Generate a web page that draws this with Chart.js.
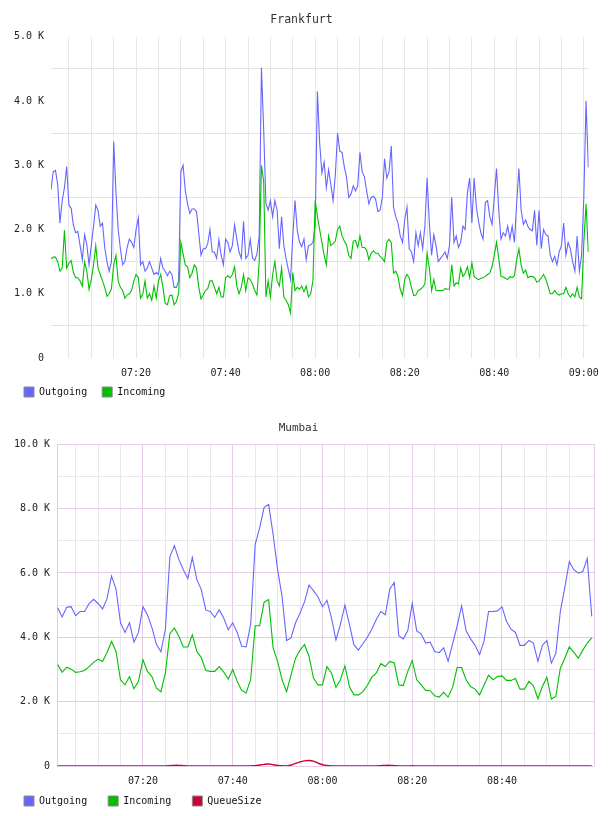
<!DOCTYPE html>
<html>
<head>
<meta charset="utf-8">
<script src="https://cdn.jsdelivr.net/npm/chart.js@4"></script>
<style>
  html, body { margin: 0; padding: 0; background: #fff; overflow: hidden; height: 816px; }
  canvas { position: absolute; left: 0; }
  #fra { top: 0; }
  #mum { top: 409px; }
</style>
</head>
<body>
<canvas id="fra" width="608" height="414"></canvas>
<canvas id="mum" width="608" height="419"></canvas>
<script>
// time axis is in minutes after 07:00
const fraStart = 1;
const fraStep = 0.5;
const fraOutgoing = [
  2.62, 2.9, 2.92, 2.7, 2.1, 2.45, 2.65, 2.98, 2.38, 2.33,
  2.07, 1.95, 1.97, 1.75, 1.53, 1.92, 1.76, 1.45, 1.75, 2.05,
  2.38, 2.3, 2.05, 2.1, 1.72, 1.5, 1.35, 1.5, 3.37, 2.6,
  2.0, 1.7, 1.45, 1.5, 1.72, 1.85, 1.8, 1.72, 2.0, 2.18,
  1.45, 1.5, 1.35, 1.4, 1.5, 1.4, 1.3, 1.33, 1.3, 1.55,
  1.4, 1.35, 1.28, 1.35, 1.3, 1.1, 1.1, 1.2, 2.9, 3.0,
  2.6, 2.4, 2.25, 2.32, 2.32, 2.28, 1.95, 1.6, 1.7, 1.7,
  1.78, 2.0, 1.65, 1.65, 1.55, 1.84, 1.6, 1.45, 1.85, 1.8,
  1.65, 1.75, 2.07, 1.85, 1.65, 1.55, 2.13, 1.55, 1.6, 1.85,
  1.56, 1.52, 1.62, 1.9, 4.52, 3.55, 2.41, 2.3, 2.45, 2.2,
  2.45, 2.3, 1.7, 2.2, 1.75, 1.55, 1.38, 1.22, 1.9, 2.45,
  1.99, 1.8, 1.73, 1.85, 1.53, 1.75, 1.76, 1.8, 2.05, 4.15,
  3.35, 2.88, 3.05, 2.65, 2.93, 2.7, 2.45, 2.85, 3.5, 3.22,
  3.2, 2.98, 2.82, 2.5, 2.55, 2.68, 2.6, 2.68, 3.2, 2.9,
  2.82, 2.6, 2.4, 2.5, 2.52, 2.47, 2.28, 2.3, 2.5, 3.1,
  2.8, 2.9, 3.3, 2.35, 2.2, 2.1, 1.9, 1.8, 2.15, 2.35,
  1.7, 1.65, 1.5, 1.95, 1.75, 1.95, 1.7, 2.05, 2.8, 2.1,
  1.6, 1.92, 1.75, 1.5, 1.55, 1.6, 1.65, 1.55, 1.75, 2.5,
  1.8, 1.9, 1.72, 1.8, 2.05, 2.0, 2.57, 2.8, 2.1, 2.8,
  2.35, 2.12, 1.95, 1.85, 2.42, 2.45, 2.2, 2.08, 2.5, 2.95,
  2.3, 1.85, 1.95, 1.9, 2.05, 1.85, 2.05, 1.8, 2.4, 2.95,
  2.3, 2.08, 2.15, 2.05, 2.0, 1.98, 2.3, 1.75, 2.3, 1.7,
  2.0, 1.92, 1.9, 1.6, 1.5, 1.58, 1.45, 1.65, 1.75, 2.1,
  1.6, 1.8, 1.7, 1.5, 1.35, 1.9, 1.35, 1.6, 2.5, 4.0,
  2.97
];
const fraIncoming = [
  1.54, 1.57, 1.57, 1.5, 1.35, 1.4, 1.99, 1.4, 1.48, 1.52,
  1.33, 1.25, 1.25, 1.2, 1.12, 1.5, 1.35, 1.07, 1.22, 1.45,
  1.75, 1.4, 1.3, 1.2, 1.1, 0.96, 1.0, 1.08, 1.45, 1.6,
  1.2, 1.1, 1.05, 0.93, 0.98, 1.0, 1.05, 1.2, 1.3, 1.25,
  0.93, 1.0, 1.2, 0.93, 1.0, 0.9, 1.12, 0.93, 1.2, 1.3,
  1.1, 0.85, 0.83, 0.97, 0.98, 0.83, 0.88, 1.0, 1.8, 1.62,
  1.45, 1.42, 1.25, 1.32, 1.45, 1.4, 1.1, 0.92, 0.98, 1.05,
  1.08, 1.2, 1.2, 1.1, 1.0, 1.1, 0.95, 0.95, 1.25, 1.28,
  1.25, 1.3, 1.42, 1.12, 1.0, 1.1, 1.3, 1.05, 1.25, 1.22,
  1.15, 1.05, 0.98, 1.5, 3.0, 2.75, 0.95, 1.2, 0.95, 1.3,
  1.5, 1.2, 1.12, 1.4, 0.95, 0.9, 0.83, 0.7, 1.33, 1.05,
  1.1, 1.07, 1.12, 1.03, 1.12, 0.95, 1.0, 1.2, 2.45, 2.2,
  2.0, 1.8, 1.6, 1.45, 1.9, 1.75, 1.78, 1.82, 2.0, 2.05,
  1.9, 1.82, 1.76, 1.6, 1.55, 1.82, 1.83, 1.72, 1.9, 1.72,
  1.72, 1.68, 1.53, 1.63, 1.67, 1.63, 1.63, 1.58, 1.55, 1.5,
  1.8, 1.85, 1.79, 1.32, 1.35, 1.27, 1.07, 0.97, 1.22, 1.3,
  1.25, 1.1, 0.97, 0.98, 1.05, 1.07, 1.1, 1.15, 1.63, 1.4,
  1.05, 1.22, 1.05, 1.05, 1.05, 1.05, 1.08, 1.07, 1.07, 1.45,
  1.12, 1.17, 1.15, 1.4, 1.27, 1.32, 1.42, 1.25, 1.48, 1.27,
  1.24, 1.22, 1.24, 1.25, 1.27, 1.3, 1.32, 1.42, 1.6, 1.8,
  1.55, 1.27, 1.26, 1.24, 1.22, 1.27, 1.25, 1.28, 1.53, 1.7,
  1.45, 1.32, 1.37, 1.25, 1.27, 1.27, 1.25, 1.18, 1.2, 1.25,
  1.3, 1.23, 1.12, 1.0, 1.0, 1.05, 1.0, 0.98, 1.0, 1.0,
  1.1, 1.0, 0.95, 1.0, 0.95, 1.1, 0.95, 0.92, 1.8, 2.4,
  1.65
];

const mumStart = 1;
const mumStep = 1;
const mumOutgoing = [
  4.92, 4.63, 4.93, 4.95, 4.67, 4.8, 4.8, 5.05, 5.18, 5.05,
  4.88, 5.2, 5.9, 5.5, 4.45, 4.15, 4.45, 3.85, 4.15, 4.95,
  4.7, 4.3, 3.78, 3.55, 4.25, 6.5, 6.85, 6.42, 6.1, 5.82,
  6.48, 5.8, 5.48, 4.85, 4.8, 4.62, 4.85, 4.6, 4.23, 4.45,
  4.15, 3.72, 3.7, 4.4, 6.88, 7.4, 8.04, 8.13, 7.2, 6.1,
  5.27, 3.9, 3.98, 4.45, 4.75, 5.1, 5.62, 5.45, 5.25, 4.95,
  5.15, 4.6, 3.92, 4.4, 5.0, 4.4, 3.77, 3.6, 3.8, 4.0,
  4.25, 4.55, 4.8, 4.7, 5.5, 5.7, 4.05, 3.95, 4.2, 5.05,
  4.2, 4.1, 3.82, 3.85, 3.56, 3.52, 3.67, 3.25, 3.8, 4.35,
  4.98, 4.2, 3.95, 3.75, 3.46, 3.88, 4.8, 4.8, 4.82, 4.95,
  4.5, 4.25, 4.15, 3.75, 3.75, 3.9, 3.82, 3.25, 3.75, 3.9,
  3.2, 3.5, 4.8, 5.55, 6.35, 6.1, 5.99, 6.04, 6.45, 4.65
];
const mumIncoming = [
  3.15, 2.91, 3.07, 3.01, 2.91, 2.93, 2.97, 3.09, 3.22, 3.32,
  3.25, 3.53, 3.87, 3.56, 2.68, 2.52, 2.78, 2.4, 2.63, 3.3,
  2.94, 2.78, 2.42, 2.31, 2.89, 4.11, 4.29, 4.03, 3.7, 3.7,
  4.08, 3.56, 3.37, 2.97, 2.94, 2.94, 3.09, 2.92, 2.7, 3.0,
  2.63, 2.35, 2.27, 2.69, 4.36, 4.36, 5.09, 5.17, 3.67, 3.25,
  2.68, 2.31, 2.83, 3.35, 3.6, 3.77, 3.41, 2.73, 2.52, 2.52,
  3.09, 2.89, 2.44, 2.68, 3.11, 2.47, 2.21, 2.21, 2.31, 2.5,
  2.76, 2.89, 3.18, 3.09, 3.25, 3.2, 2.52, 2.5, 2.94, 3.28,
  2.68, 2.52, 2.35, 2.34, 2.18, 2.14, 2.29, 2.14, 2.45, 3.06,
  3.06, 2.68, 2.47, 2.39, 2.21, 2.52, 2.82, 2.68, 2.78, 2.8,
  2.66, 2.66, 2.72, 2.39, 2.39, 2.63, 2.49, 2.09, 2.47, 2.76,
  2.08, 2.16, 3.04, 3.35, 3.7, 3.53, 3.35, 3.6, 3.82, 3.98
];
const mumQueue = [
  0, 0, 0, 0, 0, 0, 0, 0, 0, 0,
  0, 0, 0, 0, 0, 0, 0, 0, 0, 0,
  0, 0, 0, 0, 0, 0.01, 0.02, 0.02, 0.01, 0,
  0, 0, 0, 0, 0, 0, 0, 0, 0, 0,
  0, 0, 0, 0.005, 0.01, 0.03, 0.05, 0.06, 0.04, 0.02,
  0.01, 0, 0.03, 0.08, 0.13, 0.16, 0.17, 0.15, 0.09, 0.04,
  0.015, 0.005, 0, 0, 0, 0, 0, 0, 0, 0,
  0, 0, 0.01, 0.02, 0.02, 0.01, 0, 0, 0, 0.01,
  0, 0, 0, 0, 0, 0, 0, 0, 0, 0,
  0, 0, 0, 0, 0, 0, 0, 0, 0, 0,
  0, 0, 0, 0, 0, 0, 0, 0, 0, 0,
  0, 0, 0, 0, 0, 0, 0, 0, 0, 0
];

// axis ticks
const timeGrid = [5, 10, 15, 20, 25, 30, 35, 40, 45, 50, 55, 60, 65, 70, 75, 80, 85, 90, 95, 100, 105, 110, 115, 120];
const timeLabelAt = [20, 40, 60, 80, 100, 120];
const timeLabels = ['07:20', '07:40', '08:00', '08:20', '08:40', '09:00'];
const fraYLabelAt = [0, 1, 2, 3, 4, 5];
const fraYLabels = ['0', '1.0 K', '2.0 K', '3.0 K', '4.0 K', '5.0 K'];
const mumYLabelAt = [0, 2, 4, 6, 8, 10];
const mumYLabels = ['0', '2.0 K', '4.0 K', '6.0 K', '8.0 K', '10.0 K'];

const mono = 'DejaVu Sans Mono';
const blue = '#6666ff';
const green = '#00c000';
const red = '#cc0033';

function series(values, start, step) {
  return values.map((v, i) => ({ x: start + i * step, y: v }));
}

function pick(at, labels) {
  return v => {
    const k = at.indexOf(v);
    return k < 0 ? '' : labels[k];
  };
}

// the legend sits closer to the axis labels than its item spacing
function liftLegend(px) {
  return {
    id: 'liftLegend',
    afterLayout: chart => {
      chart.legend.top -= px;
      chart.legend.bottom -= px;
    }
  };
}

function legendOpts(pad) {
  return {
    position: 'bottom',
    align: 'start',
    labels: {
      boxWidth: 10,
      boxHeight: 10,
      padding: pad,
      color: '#111',
      font: { family: mono, size: 10 },
      sort: (a, b) => a.datasetIndex - b.datasetIndex,
      generateLabels: chart => Chart.defaults.plugins.legend.labels.generateLabels(chart)
        .map(l => Object.assign(l, { strokeStyle: '#8a8a8a', lineWidth: 1 }))
    }
  };
}

function line(label, data, color, order) {
  return {
    label: label,
    data: data,
    borderColor: color,
    backgroundColor: color,
    borderWidth: 1.1,
    pointRadius: 0,
    tension: 0,
    order: order
  };
}

// Frankfurt
new Chart(document.getElementById('fra'), {
  type: 'line',
  data: {
    datasets: [
      line('Outgoing', series(fraOutgoing, fraStart, fraStep), blue, 2),
      line('Incoming', series(fraIncoming, fraStart, fraStep), green, 1)
    ]
  },
  plugins: [liftLegend(7)],
  options: {
    responsive: false,
    animation: false,
    layout: { padding: { left: 9, right: 14, top: 0, bottom: 0 } },
    plugins: {
      title: {
        display: true,
        text: 'Frankfurt',
        color: '#333',
        font: { family: mono, size: 11.5, weight: 'normal' },
        padding: { top: 13, bottom: 10 }
      },
      legend: legendOpts(15),
      tooltip: { enabled: false }
    },
    scales: {
      x: {
        type: 'linear',
        min: 1,
        max: 121.1,
        afterBuildTicks: s => { s.ticks = timeGrid.map(v => ({ value: v })); },
        afterFit: s => { s.height = 21; },
        ticks: {
          autoSkip: false, maxRotation: 0, padding: 9, color: '#222',
          font: { family: mono, size: 10 },
          callback: pick(timeLabelAt, timeLabels)
        },
        grid: { color: '#e6e6e6', drawTicks: false },
        border: { display: false }
      },
      y: {
        min: 0,
        max: 5,
        afterFit: s => { s.width = 42; },
        ticks: {
          stepSize: 0.5, padding: 7, color: '#222',
          font: { family: mono, size: 10 },
          callback: pick(fraYLabelAt, fraYLabels)
        },
        grid: {
          drawTicks: false,
          color: c => fraYLabelAt.includes(c.tick.value) ? 'rgba(0,0,0,0)' : '#e4e4e4'
        },
        border: { display: false }
      }
    }
  }
});

// Mumbai
const pinkMajor = '#e4cce4';
const pinkMinor = '#ebe5ec';
const mumMax = 120.5;
new Chart(document.getElementById('mum'), {
  type: 'line',
  data: {
    datasets: [
      line('Outgoing', series(mumOutgoing, mumStart, mumStep), blue, 3),
      line('Incoming', series(mumIncoming, mumStart, mumStep), green, 2),
      Object.assign(line('QueueSize', series(mumQueue, mumStart, mumStep), red, 1), { tension: 0.4, borderWidth: 1.4 })
    ]
  },
  plugins: [liftLegend(12)],
  options: {
    responsive: false,
    animation: false,
    layout: { padding: { left: 3, right: 14, top: 0, bottom: 0 } },
    plugins: {
      title: {
        display: true,
        text: 'Mumbai',
        color: '#333',
        font: { family: mono, size: 11, weight: 'normal' },
        padding: { top: 13, bottom: 9 }
      },
      legend: legendOpts(21),
      tooltip: { enabled: false }
    },
    scales: {
      x: {
        type: 'linear',
        min: 0.85,
        max: mumMax,
        afterBuildTicks: s => {
          s.ticks = timeGrid.filter(v => v < 119).concat([mumMax]).map(v => ({ value: v }));
        },
        afterFit: s => { s.height = 21; },
        ticks: {
          autoSkip: false, maxRotation: 0, padding: 9, color: '#222',
          font: { family: mono, size: 10 },
          callback: pick(timeLabelAt, timeLabels)
        },
        grid: {
          drawTicks: false,
          color: c => (c.tick.value % 20 === 0 || c.tick.value === mumMax) ? pinkMajor : pinkMinor
        },
        border: { display: false }
      },
      y: {
        min: 0,
        max: 10,
        afterFit: s => { s.width = 54; },
        ticks: {
          stepSize: 1, padding: 7, color: '#222',
          font: { family: mono, size: 10 },
          callback: pick(mumYLabelAt, mumYLabels)
        },
        grid: {
          drawTicks: false,
          color: c => mumYLabelAt.includes(c.tick.value) ? pinkMajor : pinkMinor
        },
        border: { display: true, color: pinkMajor }
      }
    }
  }
});
</script>
</body>
</html>
